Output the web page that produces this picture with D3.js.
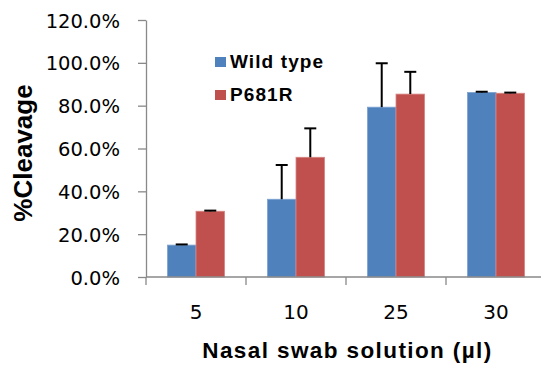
<!DOCTYPE html>
<html>
<head>
<meta charset="utf-8">
<script src="https://cdn.jsdelivr.net/npm/d3@7"></script>
<style>
  html, body { margin: 0; padding: 0; background: #fff; overflow: hidden; }
  svg { display: block; }
</style>
</head>
<body>
<div id="BarChart"></div>
<script>
// data
const categories = ["5", "10", "25", "30"];
const seriesNames = ["Wild type", "P681R"];
const wildType = [14.9, 36.3, 79.3, 86.2];
const p681r = [30.7, 55.9, 85.4, 85.8];
const wildTypeErr = [0.3, 16.0, 20.5, 0.3];
const p681rErr = [0.3, 13.5, 10.4, 0.3];
const yTicks = [0, 20, 40, 60, 80, 100, 120];

const width = 541, height = 367;
const margin = {top: 20, left: 146};
const innerWidth = 395, innerHeight = 257;
const bandWidth = 100;
const colors = ["#4F81BD", "#C0504D"];
const edges = ["#7FA3D3", "#D88583"];
const boldFont = "Liberation Sans, Arial, sans-serif";
const tickFont = "DejaVu Sans, sans-serif";

const svg = d3.select('#BarChart')
                .append("svg")
                .attr('width', width)
                .attr('height', height);

const g = svg.append('g')
            .attr('transform', `translate(${margin.left},${margin.top})`);

const xScale = d3.scaleBand()
                .domain(categories)
                .range([0, bandWidth * categories.length])
                .padding(0);

const x1 = d3.scaleBand()
                .domain(seriesNames)
                .range([0, xScale.bandwidth()])
                .paddingInner(0)
                .paddingOuter(0.75);

const yScale = d3.scaleLinear()
                .domain([0, 120])
                .range([innerHeight, 0]);

// table built from the arrays
const rows = categories.map((c, i) => ({
    cat: c,
    vals: [
        {name: seriesNames[0], v: wildType[i], e: wildTypeErr[i], k: 0},
        {name: seriesNames[1], v: p681r[i], e: p681rErr[i], k: 1}
    ]
}));

// y axis
const yAxis = d3.axisLeft(yScale)
                .tickValues(yTicks)
                .tickSize(8)
                .tickSizeOuter(0)
                .tickPadding(18)
                .tickFormat(d => d.toFixed(1) + "%");

const yg = g.append('g').call(yAxis)
    .attr("font-family", tickFont)
    .attr("font-size", 19.5);
yg.select(".domain").attr("stroke", "#898989").attr("stroke-width", 1.3);
yg.selectAll(".tick line").attr("stroke", "#898989").attr("stroke-width", 1.3);
yg.selectAll(".tick text")
    .attr("fill", "#000")
    .attr("dy", "0.36em");

// bars
const groups = g.selectAll(".group")
    .data(rows)
    .join("g")
    .attr("class", "group")
    .attr("transform", d => `translate(${xScale(d.cat)},0)`);

groups.selectAll("rect")
    .data(d => d.vals)
    .join("rect")
    .attr("x", d => x1(d.name))
    .attr("y", d => yScale(d.v))
    .attr("width", x1.bandwidth())
    .attr("height", d => innerHeight - yScale(d.v))
    .attr("fill", d => colors[d.k])
    .attr("stroke", d => edges[d.k])
    .attr("stroke-width", 0.8);

// plus error bars
groups.selectAll(".err")
    .data(d => d.vals)
    .join("line")
    .attr("class", "err")
    .attr("x1", d => x1(d.name) + x1.bandwidth() / 2)
    .attr("x2", d => x1(d.name) + x1.bandwidth() / 2)
    .attr("y1", d => yScale(d.v))
    .attr("y2", d => yScale(d.v + d.e))
    .attr("stroke", "#000")
    .attr("stroke-width", 2);

groups.selectAll(".cap")
    .data(d => d.vals)
    .join("line")
    .attr("class", "cap")
    .attr("x1", d => x1(d.name) + x1.bandwidth() / 2 - 6)
    .attr("x2", d => x1(d.name) + x1.bandwidth() / 2 + 6)
    .attr("y1", d => yScale(d.v + d.e))
    .attr("y2", d => yScale(d.v + d.e))
    .attr("stroke", "#000")
    .attr("stroke-width", 2);

// x axis: labels at centers, ticks on the band edges
const xAxis = d3.axisBottom(xScale).tickSize(0).tickSizeOuter(0).tickPadding(28);
const xg = g.append('g')
    .attr('transform', `translate(0,${innerHeight})`)
    .call(xAxis)
    .attr("font-family", tickFont)
    .attr("font-size", 20);
xg.select(".domain")
    .attr("d", `M0,0H${innerWidth}`)
    .attr("stroke", "#898989")
    .attr("stroke-width", 1.3);
xg.selectAll(".tick text").attr("fill", "#000");

xg.selectAll(".edge")
    .data(categories)
    .join("line")
    .attr("class", "edge")
    .attr("x1", d => xScale(d))
    .attr("x2", d => xScale(d))
    .attr("y1", 0)
    .attr("y2", 8)
    .attr("stroke", "#898989")
    .attr("stroke-width", 1.3);

// axis titles
svg.append("text")
    .attr("x", margin.left + 201.5)
    .attr("y", 358)
    .attr("text-anchor", "middle")
    .attr("font-family", boldFont)
    .attr("font-weight", "bold")
    .attr("font-size", 22.5)
    .attr("letter-spacing", 1.4)
    .text("Nasal swab solution (µl)");

svg.append("text")
    .attr("transform", `translate(32,153) rotate(-90)`)
    .attr("text-anchor", "middle")
    .attr("font-family", boldFont)
    .attr("font-weight", "bold")
    .attr("font-size", 26)
    .text("%Cleavage");

// legend
const legend = svg.append("g").attr("transform", "translate(215,57)");
const items = legend.selectAll("g")
    .data(seriesNames)
    .join("g")
    .attr("transform", (d, i) => `translate(0,${i * 33})`);
items.append("rect")
    .attr("width", 11)
    .attr("height", 10)
    .attr("fill", (d, i) => colors[i]);
items.append("text")
    .attr("x", 15)
    .attr("y", 11)
    .attr("font-family", boldFont)
    .attr("font-weight", "bold")
    .attr("font-size", 19)
    .attr("letter-spacing", 1.1)
    .text(d => d);
</script>
</body>
</html>
